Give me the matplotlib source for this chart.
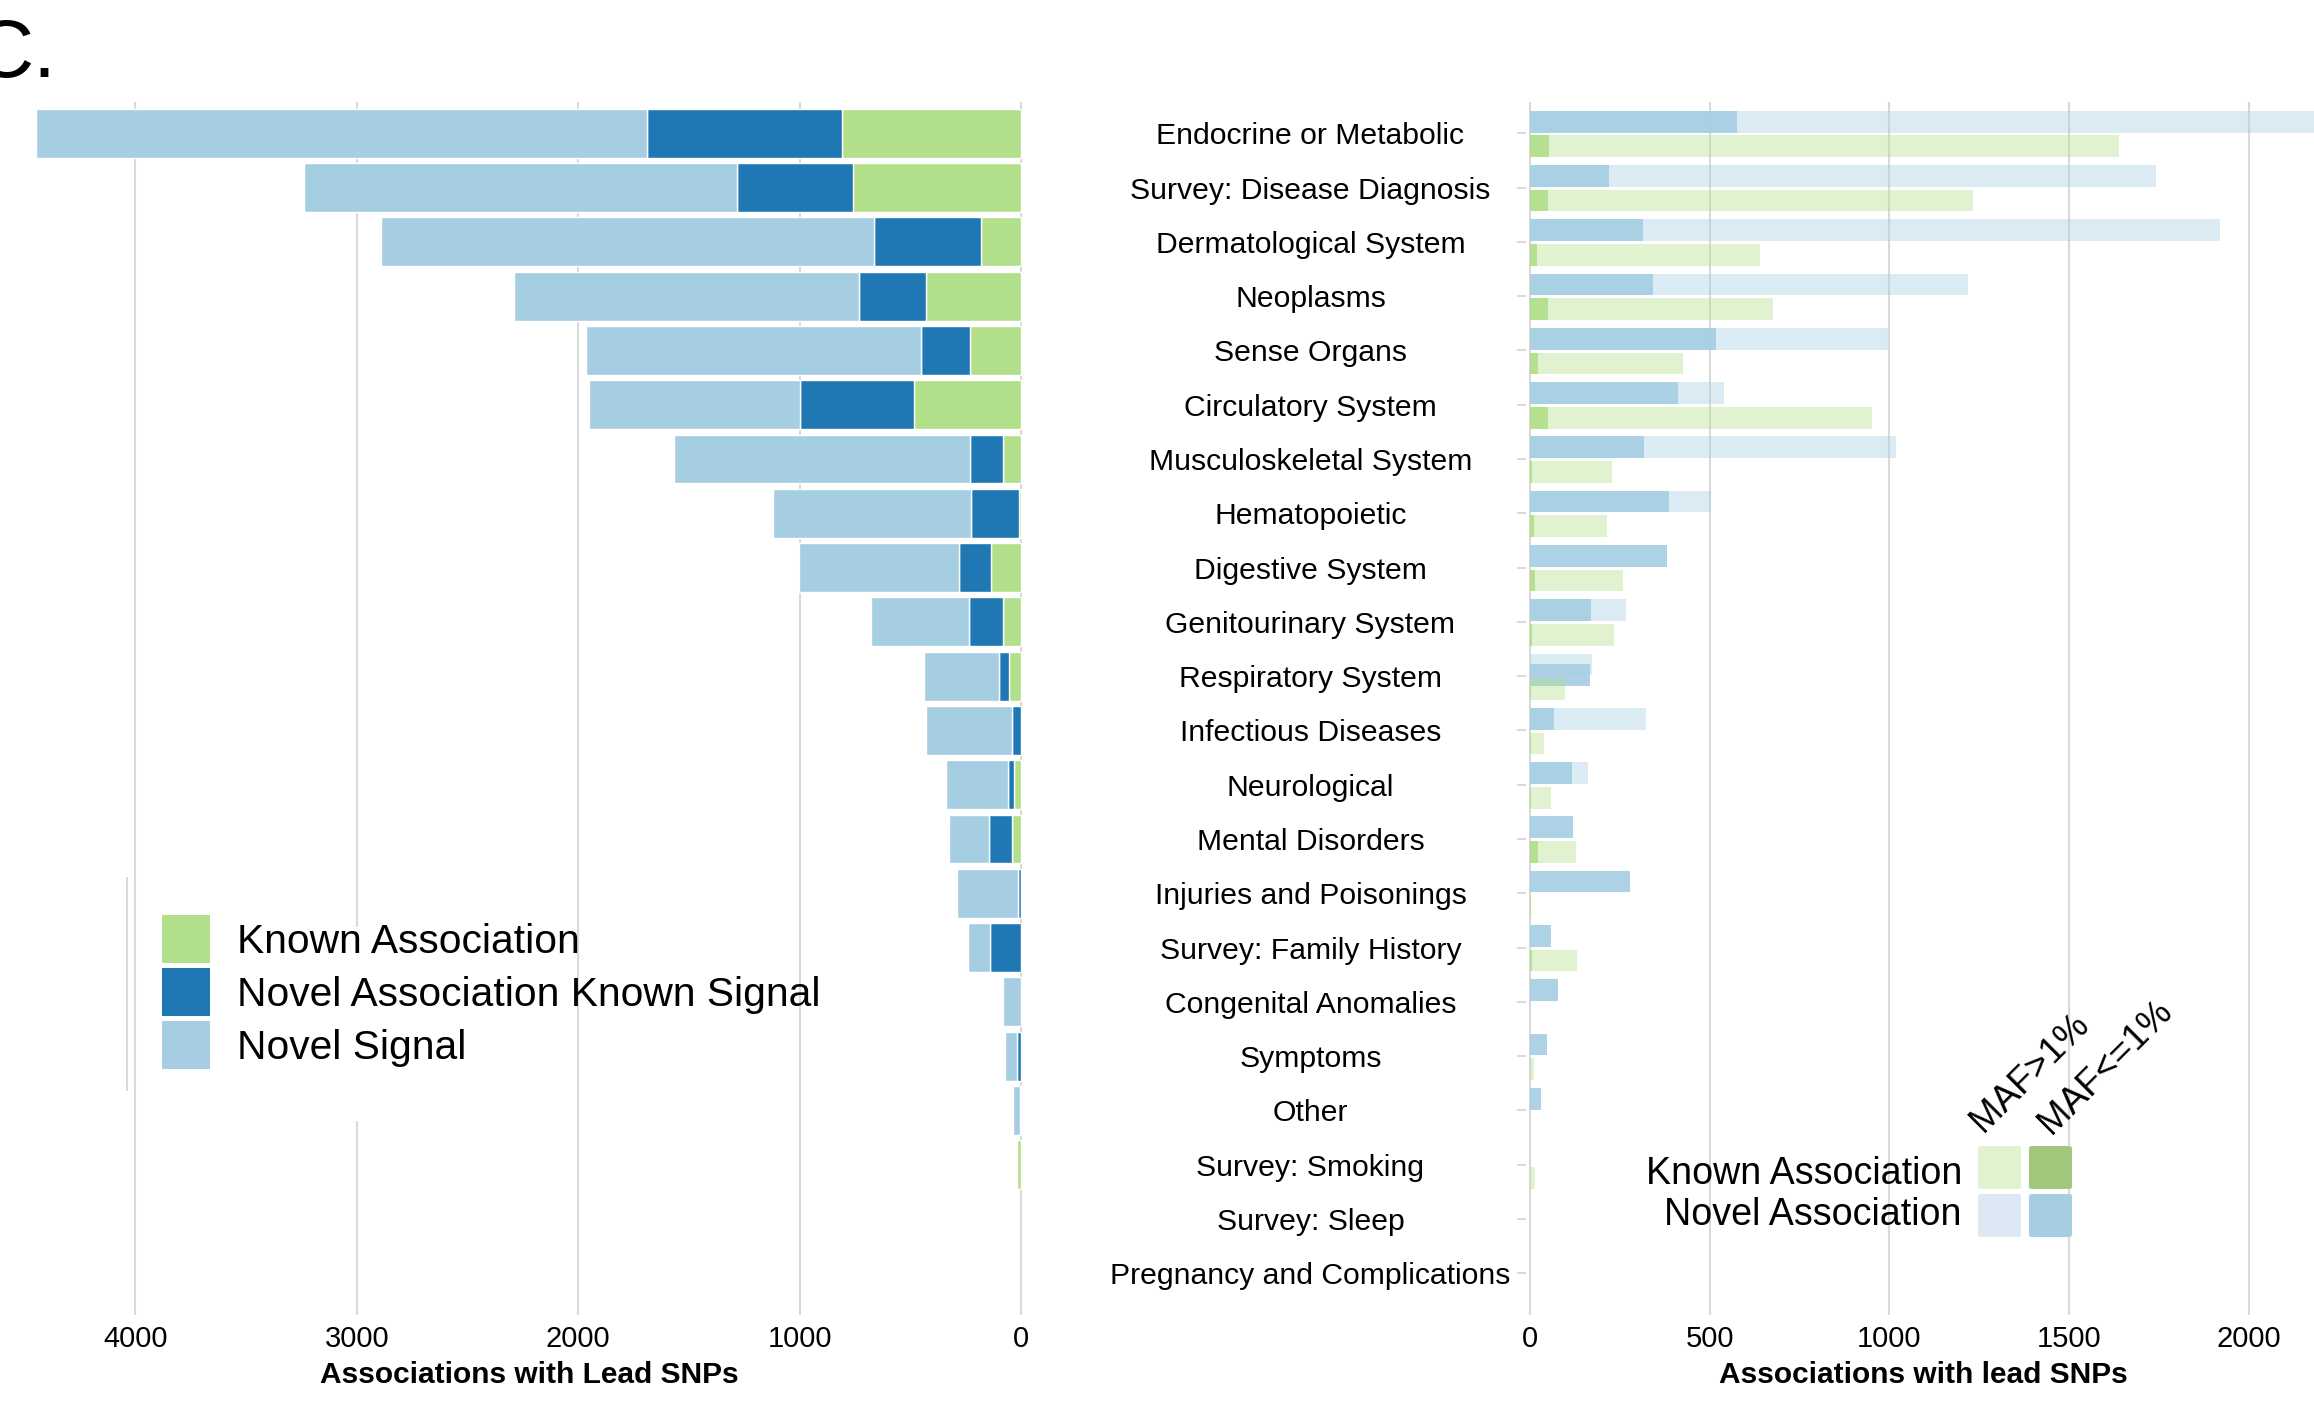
import numpy as np
import matplotlib
matplotlib.use("Agg")
from matplotlib import pyplot as plt
from matplotlib.patches import Patch, Rectangle, FancyBboxPatch
from matplotlib.lines import Line2D

plt.rcParams['font.family'] = ['Liberation Sans', 'DejaVu Sans']

categories = ["Endocrine or Metabolic", "Survey: Disease Diagnosis", "Dermatological System",
              "Neoplasms", "Sense Organs", "Circulatory System", "Musculoskeletal System",
              "Hematopoietic", "Digestive System", "Genitourinary System", "Respiratory System",
              "Infectious Diseases", "Neurological", "Mental Disorders", "Injuries and Poisonings",
              "Survey: Family History", "Congenital Anomalies", "Symptoms", "Other",
              "Survey: Smoking", "Survey: Sleep", "Pregnancy and Complications"]

# left panel: associations with lead SNPs by novelty
known_assoc = [807, 760, 181, 427, 231, 484, 80, 10, 134, 80, 56, 0, 30, 42, 0, 0, 0, 0, 0, 19, 0, 0]
novel_assoc_known_signal = [884, 522, 481, 303, 220, 516, 151, 218, 145, 157, 45, 42, 29, 103, 12, 139, 0, 18, 6, 0, 0, 0]
novel_signal = [2757, 1955, 2231, 1561, 1516, 950, 1336, 894, 724, 440, 338, 388, 282, 181, 279, 100, 83, 56, 30, 0, 0, 0]

# right panel: split by minor allele frequency
novel_maf_common = [2350, 1740, 1918, 1219, 996, 539, 1017, 504, 0, 266, 172, 322, 162, 0, 0, 0, 0, 0, 0, 0, 0, 0]
novel_maf_rare = [576, 221, 315, 342, 518, 413, 316, 387, 381, 169, 166, 66, 117, 121, 277, 58, 78, 46, 32, 0, 0, 0]
known_maf_common = [1639, 1232, 641, 676, 426, 950, 228, 214, 260, 234, 98, 40, 58, 129, 0, 131, 0, 12, 0, 14, 0, 0]
known_maf_rare = [52, 49, 20, 51, 22, 51, 6, 10, 14, 6, 4, 4, 4, 22, 3, 6, 0, 0, 0, 0, 0, 0]

left_ticks = [4000, 3000, 2000, 1000, 0]
right_ticks = [0, 500, 1000, 1500, 2000]

W, H = 2314, 1411
fig = plt.figure(figsize=(W / 100, H / 100), dpi=100)


#pixel -> figure fraction helpers
def fx(px):
    return px / W


def fy(py):
    return 1 - py / H


#white bar edges only where there is a bar, so the 0 gridline stays visible
def edges(vals):
    return [1 if v > 0 else 0 for v in vals]


grid_col = '#d9d9d9'
green, dblue, lblue = '#b2df8a', '#1f78b4', '#a6cee3'
y = np.arange(len(categories))
ylim = (21.77, -0.577)

# ---- left panel ----
ax1 = fig.add_axes([0, fy(1315), fx(1030), fy(102) - fy(1315)])
k = np.array(known_assoc)
n = np.array(novel_assoc_known_signal)
s = np.array(novel_signal)
ax1.barh(y, k, height=0.9, color=green, edgecolor='white', linewidth=edges(k))
ax1.barh(y, n, left=k, height=0.9, color=dblue, edgecolor='white', linewidth=edges(n))
ax1.barh(y, s, left=k + n, height=0.9, color=lblue, edgecolor='white', linewidth=edges(s))
ax1.set_xlim(4612, -40.6)
ax1.set_ylim(*ylim)
ax1.set_xticks(left_ticks)
ax1.set_xticklabels([str(t) for t in left_ticks])
ax1.set_yticks([])
ax1.grid(axis='x', color=grid_col, lw=1.5)
ax1.set_axisbelow(True)
for sp in ax1.spines.values():
    sp.set_visible(False)
ax1.tick_params(axis='x', length=0, pad=7, labelsize=21)
ax1.set_xlabel('Associations with Lead SNPs', fontsize=21.5, fontweight='bold')
ax1.xaxis.set_label_coords(529 / 1030, -0.0379)

handles = [Patch(facecolor=green, edgecolor='none'),
           Patch(facecolor=dblue, edgecolor='none'),
           Patch(facecolor=lblue, edgecolor='none')]
ax1.legend(handles, ['Known Association', 'Novel Association Known Signal', 'Novel Signal'],
           loc='upper left', bbox_to_anchor=(fx(162), fy(915)), bbox_transform=fig.transFigure,
           frameon=False, fontsize=29.3, handlelength=1.17, handleheight=1.445,
           handletextpad=0.68, labelspacing=0.12, borderpad=0, borderaxespad=0)

# leftovers from the original panel layout (white box over a gridline, stray line)
ax1.add_patch(Rectangle((fx(300), fy(1121)), fx(150), fy(927) - fy(1121), transform=fig.transFigure,
                        facecolor='white', edgecolor='none', zorder=0.8))
ax1.add_line(Line2D([fx(127), fx(127)], [fy(878), fy(1090)], transform=fig.transFigure,
                    color=grid_col, lw=1.5, clip_on=False))

# ---- right panel ----
ax2 = fig.add_axes([fx(1526), fy(1315), fx(2314) - fx(1526), fy(102) - fy(1315)])
rare_shift = np.zeros(len(categories))
rare_shift[categories.index("Respiratory System")] = 0.2
ax2.barh(y - 0.215, novel_maf_common, height=0.4, color=lblue, alpha=0.4)
ax2.barh(y - 0.215 + rare_shift, novel_maf_rare, height=0.4, color=lblue, alpha=0.92)
ax2.barh(y + 0.24, known_maf_common, height=0.4, color=green, alpha=0.4)
ax2.barh(y + 0.24, known_maf_rare, height=0.4, color=green, alpha=0.92)
ax2.set_xlim(-11.1, 2180.8)
ax2.set_ylim(*ylim)
ax2.set_xticks(right_ticks)
ax2.set_xticklabels([str(t) for t in right_ticks])
ax2.set_yticks(y)
ax2.set_yticklabels(categories, ha='center')
ax2.grid(axis='x', color=grid_col, lw=1.5)
ax2.set_axisbelow(True)
for sp in ax2.spines.values():
    sp.set_visible(False)
ax2.tick_params(axis='x', length=0, pad=7, labelsize=21)
ax2.tick_params(axis='y', length=6.5, width=1.4, color=grid_col, pad=148.7, labelsize=21.7)
ax2.set_xlabel('Associations with lead SNPs', fontsize=21.5, fontweight='bold')
ax2.xaxis.set_label_coords((1923 - 1526) / 788, -0.0379)

# MAF legend (2x2 key)
key_cols = {'MAF>1%': 1978, 'MAF<=1%': 2029}
key_rows = {'Known Association': 1146, 'Novel Association': 1194}
key_fill = {('Known Association', 'MAF>1%'): '#e0f2d0', ('Known Association', 'MAF<=1%'): '#a0c77b',
            ('Novel Association', 'MAF>1%'): '#dce9f4', ('Novel Association', 'MAF<=1%'): '#a6cee3'}
for (row, col), c in key_fill.items():
    x0, y0 = key_cols[col], key_rows[row]
    fig.add_artist(FancyBboxPatch((fx(x0), fy(y0 + 43)), fx(43), fy(y0) - fy(y0 + 43),
                                  boxstyle='round,pad=0,rounding_size=0.0015',
                                  transform=fig.transFigure, facecolor=c, edgecolor='none'))
fig.text(fx(1962), fy(1184), 'Known Association', ha='right', va='baseline', fontsize=27.1)
fig.text(fx(1962), fy(1225), 'Novel Association', ha='right', va='baseline', fontsize=27.1)
fig.text(fx(1983), fy(1133), 'MAF>1%', rotation=45, rotation_mode='anchor',
         ha='left', va='baseline', fontsize=26.5)
fig.text(fx(2051), fy(1135), 'MAF<=1%', rotation=45, rotation_mode='anchor',
         ha='left', va='baseline', fontsize=26.5)

# panel letter
fig.text(fx(57), fy(77), 'C.', ha='right', va='baseline', fontsize=59)

fig.savefig('out.png', dpi=100)
